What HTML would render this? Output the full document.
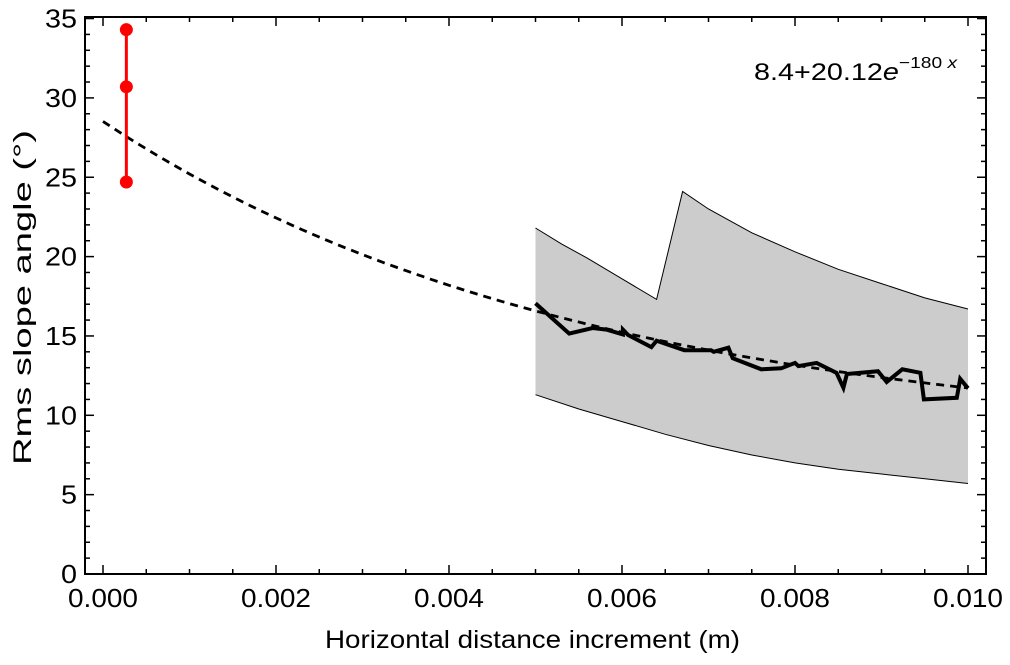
<!DOCTYPE html>
<html><head><meta charset="utf-8"><style>
html,body{margin:0;padding:0;background:#fff;}
svg{display:block;font-family:"Liberation Sans",Arial,sans-serif;}
</style></head><body>
<svg id="chart" width="1010" height="665" viewBox="0 0 1010 665" xmlns="http://www.w3.org/2000/svg">
<g id="band"></g>
<g id="fit"></g>
<g id="series"></g>
<g id="red"></g>
<g id="axes"></g>
<g transform="translate(754,80) scale(1.2,1)">
<text x="0" y="0" font-size="24">8.4+20.12<tspan font-style="italic">e</tspan><tspan dy="-12" font-size="16">−180 <tspan font-style="italic">x</tspan></tspan></text>
</g>
<text x="325" y="648" font-size="25" textLength="415" lengthAdjust="spacingAndGlyphs">Horizontal distance increment (m)</text>
<text transform="translate(31,465) rotate(-90)" font-size="25" textLength="335" lengthAdjust="spacingAndGlyphs">Rms slope angle (°)</text>
</svg>
<script>
const seriesX=[0.005,0.00539,0.00566,0.00582,0.00601,0.00601,0.00607,0.00634,0.0064,0.00672,0.00703,0.00706,0.00723,0.00728,0.00761,0.00784,0.008,0.00804,0.00825,0.00848,0.00856,0.0086,0.00896,0.00906,0.00924,0.00945,0.00949,0.00987,0.00991,0.01];
const seriesY=[17.05,15.15,15.5,15.4,15.1,15.4,15.06,14.3,14.7,14.1,14.1,14.0,14.26,13.6,12.9,12.96,13.3,13.1,13.3,12.68,11.73,12.6,12.78,12.1,12.9,12.68,11.0,11.1,12.3,11.7];
const bandUpper1X=[0.005,0.0053,0.0056,0.006,0.0064];
const bandUpper1Y=[21.8,20.8,19.9,18.6,17.3];
const bandUpper2X=[0.0067,0.007,0.0075,0.008,0.0085,0.009,0.0095,0.01];
const bandUpper2Y=[24.1,23.0,21.5,20.3,19.2,18.3,17.4,16.7];
const bandLowerX=[0.005,0.0055,0.006,0.0065,0.007,0.0075,0.008,0.0085,0.009,0.0095,0.01];
const bandLowerY=[11.3,10.4,9.6,8.8,8.1,7.5,7.0,6.6,6.3,6.0,5.7];
const redX=[0.00027,0.00027,0.00027];
const redY=[34.3,30.7,24.7];
const fitParams=[8.4,20.12,180];
const xTicks=[0,0.002,0.004,0.006,0.008,0.010];
const xTickLabels=["0.000","0.002","0.004","0.006","0.008","0.010"];
const yTicks=[0,5,10,15,20,25,30,35];
const yTickLabels=["0","5","10","15","20","25","30","35"];

const L=85,R=986,T=17,B=574;
const sx=v=>103+v*86500;
const sy=v=>574-v*15.87;
const NS="http://www.w3.org/2000/svg";
function mk(tag,attrs,parent){const e=document.createElementNS(NS,tag);for(const k in attrs)e.setAttribute(k,attrs[k]);parent.appendChild(e);return e;}
const pts=(xs,ys)=>xs.map((x,i)=>sx(x).toFixed(1)+","+sy(ys[i]).toFixed(1));

const bandG=document.getElementById('band');
const up=pts(bandUpper1X,bandUpper1Y).concat(pts(bandUpper2X,bandUpper2Y));
const lo=pts(bandLowerX,bandLowerY).reverse();
const poly=mk('polygon',{points:up.concat(lo).join(' '),fill:'#cccccc',stroke:'none'},bandG);


const ul=mk('polyline',{points:up.join(' '),fill:'none',stroke:'#000','stroke-width':1},bandG);


const ll=mk('polyline',{points:lo.join(' '),fill:'none',stroke:'#000','stroke-width':1},bandG);



const fitG=document.getElementById('fit');
const fp=[];for(let i=0;i<=100;i++){const x=i*0.0001;fp.push(sx(x).toFixed(1)+","+sy(fitParams[0]+fitParams[1]*Math.exp(-fitParams[2]*x)).toFixed(1));}
const fl=mk('polyline',{points:fp.join(' '),fill:'none',stroke:'#000','stroke-width':2.8,'stroke-dasharray':'8,6'},fitG);



const sG=document.getElementById('series');
const sl=mk('polyline',{points:pts(seriesX,seriesY).join(' '),fill:'none',stroke:'#000','stroke-width':4,'stroke-linejoin':'miter'},sG);



const rG=document.getElementById('red');
const rl=mk('line',{x1:sx(redX[0]),x2:sx(redX[0]),y1:sy(Math.max(...redY)),y2:sy(Math.min(...redY)),stroke:'#f00','stroke-width':3},rG);


redX.forEach((x,i)=>{const c=mk('circle',{cx:sx(x),cy:sy(redY[i]),r:6.5,fill:'#f00'},rG);

});

const aG=document.getElementById('axes');
const fr=mk('rect',{x:L,y:T,width:R-L,height:B-T,fill:'none',stroke:'#000','stroke-width':2},aG);


for(let i=0;i<=21;i++){const x=sx(i*0.0005);if(x>R)break;const len=i%4===0?9:5;
 mk('line',{x1:x,x2:x,y1:B,y2:B-len,stroke:'#000','stroke-width':1.5},aG);
 mk('line',{x1:x,x2:x,y1:T,y2:T+len,stroke:'#000','stroke-width':1.5},aG);}
for(let v=0;v<=35;v++){const y=sy(v);const len=v%5===0?9:5;
 mk('line',{x1:L,x2:L+len,y1:y,y2:y,stroke:'#000','stroke-width':1.5},aG);
 mk('line',{x1:R,x2:R-len,y1:y,y2:y,stroke:'#000','stroke-width':1.5},aG);}
xTicks.forEach((v,i)=>{const w=70;const t=mk('text',{x:sx(v)-w/2,y:607,'font-size':26,textLength:w,lengthAdjust:'spacingAndGlyphs'},aG);t.textContent=xTickLabels[i];

});
yTicks.forEach((v,i)=>{const w=16*yTickLabels[i].length;const t=mk('text',{x:77-w,y:sy(v)+9,'font-size':26,textLength:w,lengthAdjust:'spacingAndGlyphs'},aG);t.textContent=yTickLabels[i];

});
</script>
</body></html>
